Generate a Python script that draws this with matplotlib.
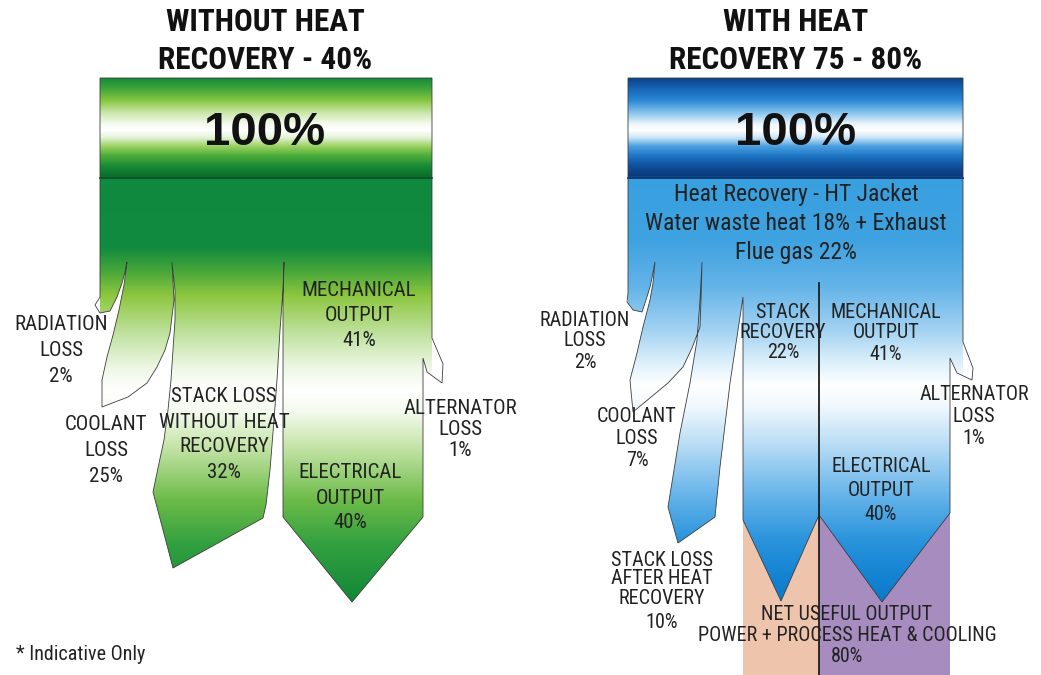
import numpy as np
import matplotlib
matplotlib.use("Agg")
import matplotlib.pyplot as plt
from matplotlib import font_manager
from matplotlib.font_manager import FontProperties
from matplotlib.patches import Polygon, Rectangle
from matplotlib.colors import to_rgb

# energy balance of a gas engine, without and with heat recovery (in %)
left_names = ["RADIATION\nLOSS", "COOLANT\nLOSS", "STACK LOSS\nWITHOUT HEAT\nRECOVERY",
              "MECHANICAL\nOUTPUT", "ELECTRICAL\nOUTPUT", "ALTERNATOR\nLOSS"]
left_values = [2, 25, 32, 41, 40, 1]

right_names = ["RADIATION\nLOSS", "COOLANT\nLOSS", "STACK LOSS\nAFTER HEAT\nRECOVERY",
               "STACK\nRECOVERY", "MECHANICAL\nOUTPUT", "ELECTRICAL\nOUTPUT",
               "ALTERNATOR\nLOSS", "NET USEFUL OUTPUT\nPOWER + PROCESS HEAT & COOLING"]
right_values = [2, 7, 10, 22, 41, 40, 1, 80]

titles = ["WITHOUT HEAT\nRECOVERY - 40%", "WITH HEAT\nRECOVERY 75 - 80%"]
recovery_note = "Heat Recovery - HT Jacket\nWater waste heat 18% + Exhaust\nFlue gas 22%"


def find_fonts():
    """pick a narrow sans for the labels, regular and bold"""
    fl = font_manager.fontManager.ttflist
    pref = ["Liberation Sans Narrow", "Roboto Condensed", "Arial Narrow",
            "DejaVu Sans Condensed", "Open Sans Condensed", "Noto Sans Condensed"]

    def is_narrow(f):
        s = (f.name + " " + f.fname).lower()
        return ("narrow" in s or "condensed" in s or
                str(f.stretch) in ("condensed", "semi-condensed", "extra-condensed"))

    cands = [f for f in fl if is_narrow(f) and "mono" not in f.fname.lower()
             and "serif" not in f.fname.lower()]

    def rank(f):
        for i, p in enumerate(pref):
            if p.lower() in (f.name + " " + f.fname.replace("-", " ")).lower():
                return i
        return len(pref)

    def pick(pool, bold):
        pool = [f for f in pool if f.style == "normal"]
        pool = [f for f in pool if (f.weight in (700, "bold")) == bold]
        if not pool:
            return None
        pool.sort(key=rank)
        return pool[0].fname

    reg, bld = pick(cands, False), pick(cands, True)
    if reg is None:
        base = [f for f in fl if f.name == "Roboto"]
        reg, bld = pick(base, False), pick(base, True)
    return reg, bld


REG, BLD = find_fonts()


def fp(size, bold=False):
    f = BLD if bold else REG
    if f is None:
        return FontProperties(family="DejaVu Sans", size=size,
                              weight="bold" if bold else "normal")
    return FontProperties(fname=f, size=size)


WIDE = "Liberation Sans"
TXT = "#222222"

# outlines of the two flow diagrams (screen px, y down)
left_outline = [
    (100, 78), (432, 78), (432, 338),
    (443, 364), (442, 383), (427, 372), (423, 358),
    (423, 517), (352, 602), (283, 517), (283, 300), (284, 262),
    (283, 290), (280, 330), (277, 380), (274, 420), (270, 470), (266, 505), (263, 518),
    (173, 568), (153, 492), (158, 468), (164, 440), (168, 410), (171, 380),
    (173, 350), (175, 320), (175, 290), (172, 262),
    (174, 300), (170, 333), (165, 350), (157, 367), (147, 383), (128, 397),
    (102, 407), (102, 380), (107, 357), (113, 335), (119, 310), (124, 285), (127, 262),
    (125, 272), (122, 283), (117, 297), (110, 311), (100, 313), (95, 305), (100, 297),
]
right_outline = [
    (628, 78), (963, 78), (963, 342),
    (973, 368), (972, 380), (957, 373), (950, 358),
    (950, 513), (882, 602), (819, 515), (781, 601), (743, 520), (743, 297),
    (740, 317), (735, 350), (730, 383), (725, 425), (720, 467), (715, 517),
    (678, 543), (668, 507), (674, 470), (680, 433), (690, 383), (697, 340),
    (700, 300), (702, 262),
    (701, 300), (700, 327), (692, 348), (683, 367), (668, 383),
    (633, 412), (630, 380), (637, 353), (643, 327), (650, 300), (653, 283), (655, 262),
    (652, 278), (650, 287), (646, 300), (642, 312), (633, 310), (627, 302), (628, 293),
]

green_stops = [
    (78, "#178a3a"), (88, "#3da53a"), (100, "#86c640"), (112, "#c8e6a8"), (124, "#f6fbf0"),
    (130, "#ffffff"), (137, "#e6f3d8"), (146, "#9ad262"), (155, "#4fae3a"), (166, "#178a36"),
    (176, "#0b6e2c"),
    (179, "#0e893f"), (248, "#118b3e"), (272, "#4aa83a"), (295, "#8cc63f"),
    (335, "#c2e3a2"), (368, "#eef7e5"), (390, "#ffffff"), (412, "#f4faee"),
    (450, "#c0e2a2"), (500, "#6cbb48"), (545, "#32a040"), (605, "#0f8637"),
]
blue_stops = [
    (78, "#0b428a"), (88, "#1664b4"), (100, "#2a88d6"), (113, "#8cc6ee"), (124, "#eef7fd"),
    (130, "#ffffff"), (137, "#cfe7f8"), (146, "#4aa0e0"), (156, "#1c74c4"), (166, "#0f4f98"),
    (176, "#0a3a7a"),
    (179, "#39a0e0"), (240, "#3fa2e0"), (285, "#62b3e8"), (330, "#a2d2f2"),
    (362, "#dcf0fb"), (385, "#ffffff"), (405, "#f2f9fe"), (445, "#b8dcf5"),
    (495, "#66b4ea"), (540, "#2a94dc"), (575, "#1484d2"), (605, "#0c78c8"),
]


def gradient(stops, y0, y1, n=800):
    ys = np.linspace(y0, y1, n)
    sy = [s[0] for s in stops]
    cols = np.array([to_rgb(s[1]) for s in stops])
    img = np.stack([np.interp(ys, sy, cols[:, k]) for k in range(3)], axis=-1)
    return img[:, None, :]


def draw_flow(ax, outline, stops, x0, x1, seam):
    poly = Polygon(outline, closed=True, facecolor="none", edgecolor="#3c3c3c",
                   lw=0.6, zorder=3)
    ax.add_patch(poly)
    im = ax.imshow(gradient(stops, 78, 610), extent=(x0, x1, 610, 78),
                   origin="upper", aspect="auto", interpolation="bilinear", zorder=2)
    im.set_clip_path(poly)
    # seam under the 100% bar
    ax.plot([x0, x1], [178, 178], color=seam, lw=1.2, zorder=4)


def label(ax, x, y, name, value, size, pitch, gap=0):
    # one text per line so the line pitch can follow the drawing
    lines = name.split("\n")
    for i, s in enumerate(lines):
        ax.text(x, y + i * pitch, s, ha="center", va="center", fontproperties=fp(size),
                color=TXT, zorder=6)
    ax.text(x, y + len(lines) * pitch + gap, f"{value}%", ha="center", va="center",
            fontproperties=fp(size), color=TXT, zorder=6)


fig = plt.figure(figsize=(10.41, 6.75), dpi=100)
ax = fig.add_axes([0, 0, 1, 1])
ax.set_xlim(0, 1041)
ax.set_ylim(675, 0)
ax.axis("off")

# useful output blocks behind the right-hand arrows
ax.add_patch(Rectangle((743, 518), 819 - 743, 675 - 518, facecolor="#efc4ac",
                       edgecolor="none", zorder=1))
ax.add_patch(Rectangle((819, 513), 950 - 819, 675 - 513, facecolor="#a78cc0",
                       edgecolor="none", zorder=1))

draw_flow(ax, left_outline, green_stops, 100, 432, "#0a4d24")
draw_flow(ax, right_outline, blue_stops, 628, 963, "#0a2f68")
ax.plot([819, 819], [283, 675], color="#1e1e1e", lw=1.3, zorder=5)

# titles and 100% bars
for xc, t in zip([265, 796], titles):
    for i, s in enumerate(t.split("\n")):
        ax.text(xc, 22 + 38 * i, s, ha="center", va="center",
                fontproperties=fp(22.5, bold=True), color="#111111")
    ax.text(xc, 133, "100%", ha="center", va="center", fontsize=34, family=WIDE,
            weight="bold", color="#111111", zorder=6)

for i, s in enumerate(recovery_note.split("\n")):
    ax.text(796, 195 + 29 * i, s, ha="center", va="center", fontproperties=fp(17),
            color=TXT, zorder=6)

# left diagram labels
lx = [61, 106, 224, 359, 350, 460]
ly = [324, 424, 397, 290, 473, 408]
lp = [26, 26, 25, 25.5, 25, 21.5]
for x, y, p, n, v in zip(lx, ly, lp, left_names, left_values):
    label(ax, x, y, n, v, 15, p)

# right diagram labels
rx = [585, 637, 662, 783, 886, 881, 974, 847]
ry = [320, 417, 560, 313, 312, 467, 395, 614]
rp = [21, 21.5, 19, 19.5, 21, 24, 22, 21.5]
rg = [0, 0, 6, 0, 0, 0, 0, 0]
for x, y, p, g, n, v in zip(rx, ry, rp, rg, right_names, right_values):
    label(ax, x, y, n, v, 14.5, p, g)

ax.text(16, 654, "* Indicative Only", ha="left", va="center", fontproperties=fp(14.5),
        color=TXT)

fig.savefig("out.png", dpi=100, facecolor="white")
